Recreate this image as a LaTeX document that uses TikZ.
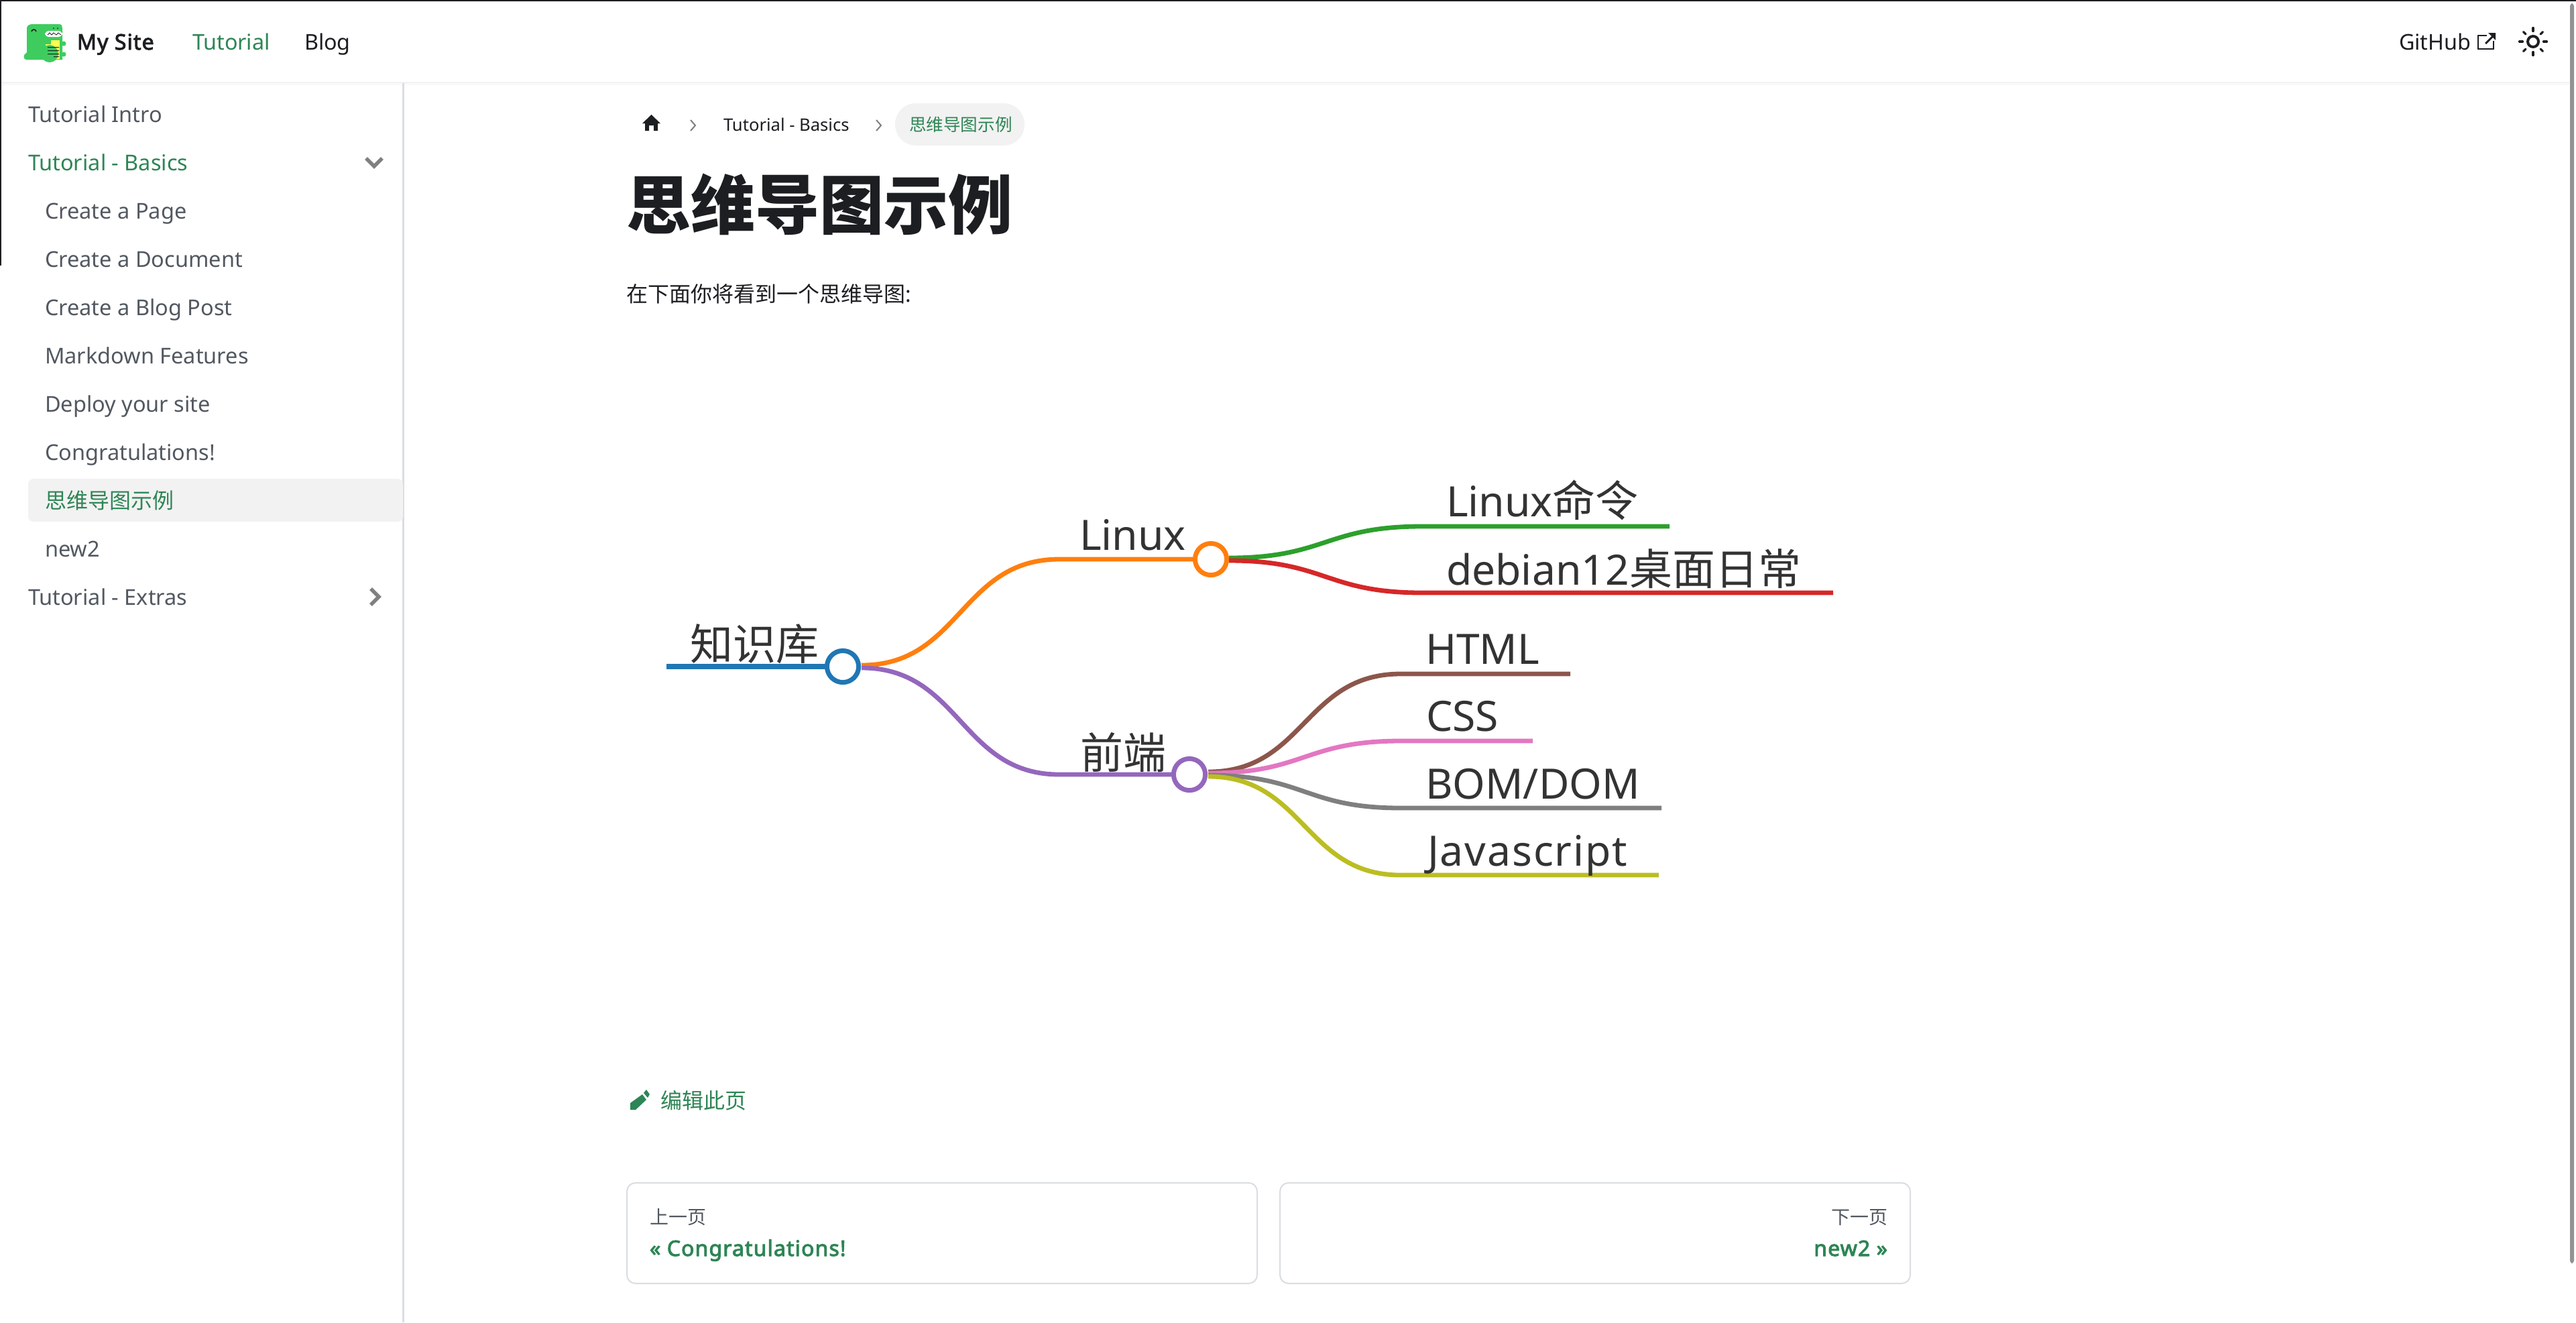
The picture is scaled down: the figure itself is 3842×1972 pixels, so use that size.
\documentclass[tikz,border=0pt]{standalone}
\usepackage{fontspec}
\setmainfont{Noto Sans}[BoldFont={Noto Sans},BoldFeatures={FakeBold=3,LetterSpace=3.5}]
\newfontfamily\cjkfont{Noto Sans CJK SC}
\usepackage{xcolor}
\usetikzlibrary{calc}
\definecolor{ink}{HTML}{1C1E21}
\definecolor{grass}{HTML}{2E8555}
\definecolor{slate}{HTML}{525860}
\definecolor{rule}{HTML}{DADDE1}
\definecolor{wash}{HTML}{F2F2F2}
\definecolor{mapink}{HTML}{333333}
\definecolor{dino}{HTML}{3ECC5F}
\definecolor{page}{HTML}{FFFF50}
\definecolor{cblue}{HTML}{1F77B4}
\definecolor{corange}{HTML}{FF7F0E}
\definecolor{cgreen}{HTML}{2CA02C}
\definecolor{cred}{HTML}{D62728}
\definecolor{cpurple}{HTML}{9467BD}
\definecolor{cbrown}{HTML}{8C564B}
\definecolor{cpink}{HTML}{E377C2}
\definecolor{cgray}{HTML}{7F7F7F}
\definecolor{colive}{HTML}{BCBD22}
\newcommand{\linkcurve}[3]{\draw[#1] (#2) .. controls ($(#2)!.5!(#3 |- #2)$) and ($(#2 |- #3)!.5!(#3)$) .. (#3)}
\newcommand{\mapcjk}[1]{{\fontsize{16}{18}\selectfont\cjkfont #1}}

\begin{document}
\begin{tikzpicture}
		[x=.25pt,y=-.25pt,
		every node/.style={inner sep=0pt,outer sep=0pt,anchor=base west},
		navtext/.style={font=\fontsize{8.08}{10}\selectfont,text=ink},
		sidetext/.style={font=\fontsize{8.13}{10}\selectfont,text=slate},
		crumb/.style={font=\fontsize{6.4}{8}\selectfont,text=ink},
		maptext/.style={font=\fontsize{15.6}{18}\selectfont,text=mapink},
		mapdot/.style={circle,draw,fill=white,line width=1.75pt,minimum size=11.8pt,anchor=center},
		maplink/.style={line width=1.7pt},
		pagerbox/.style={draw=rule,line width=.5pt,rounded corners=3.2pt},
		chev/.style={draw=gray,line width=1.4pt,fill=none}]
		\useasboundingbox (0,0) rectangle (3842,1972);
		\fill[white] (0,0) rectangle (3842,1972);
		\fill[ink] (0,0) rectangle (3842,2);
		\fill[ink] (0,0) rectangle (2,396);
		% navbar
		\fill[wash] (2,122) rectangle (3832,124);
		\fill[wash!50] (2,124) rectangle (3832,127);
		\fill[rule] (600,124) rectangle (602.5,1972);
		\fill[gray!85,rounded corners=1pt] (3833,5) rectangle (3839,1884);
		\fill[dino] (49,36) -- (88,36) .. controls (92,36) and (93,39) .. (93,42) -- (93,89) -- (40,89) .. controls (36,89) and (35,86) .. (36,82) -- (40,78) -- (40,42) .. controls (40,38) and (44,36) .. (49,36) -- cycle;
		\fill[page] (68,60) rectangle (89,88);
		\fill[dino] (60,58) rectangle (76,66);
		\fill[dino] (74,80) circle (13);
		\fill[dino] (95,65) circle (3.5);
		\fill[dino] (95,81) circle (3.5);
		\fill[white,rounded corners=1.5pt] (67,46) rectangle (93,55);
		\draw[ink,line width=.2pt] (71,52) -- (74,49) -- (77,52) -- (80,49) -- (84,52) -- (87,49) -- (91,52);
		\draw[ink,line width=.4pt] (47,47) .. controls (48,43) and (53,43) .. (54,47);
		\fill[ink] (80,42) circle (1) (86,42) circle (1);
		\fill[ink] (71,70) rectangle (88,71) (71,75) rectangle (88,76) (71,80) rectangle (88,81) (80,84) rectangle (88,85);
		\node[navtext,font=\fontsize{8}{10}\selectfont\bfseries] (brandTitle) at (115,74) {My Site};
		\node[navtext,text=grass] (navTutorial) at (287,74) {Tutorial};
		\node[navtext] (navBlog) at (454,74) {Blog};
		\node[navtext] (navGithub) at (3578,74) {GitHub};
		\draw[ink,line width=.4pt] (3709,53) -- (3696,53) -- (3696,73) -- (3719,73) -- (3719,61);
		\draw[ink,line width=.7pt] (3707,65) -- (3718,54);
		\fill[ink] (3711,49) -- (3722,49) -- (3722,60) -- cycle;
		\draw[ink,line width=1pt] (3778,62) circle (8);
		\foreach \a in {0,45,...,315}
			\draw[ink,line width=.8pt,line cap=round] (3778,62) ++(\a:15.5) -- ++(\a:5);
		% sidebar
		\fill[wash,rounded corners=2pt] (42,714) rectangle (601,778);
		\node[sidetext] (sideIntro) at (42,182) {Tutorial Intro};
		\node[sidetext,text=grass] (sideBasics) at (42,254) {Tutorial - Basics};
		\node[sidetext] (sidePage) at (67,326) {Create a Page};
		\node[sidetext] (sideDoc) at (67,398) {Create a Document};
		\node[sidetext] (sideBlog) at (67,470) {Create a Blog Post};
		\node[sidetext] (sideMd) at (67,542) {Markdown Features};
		\node[sidetext] (sideDeploy) at (67,614) {Deploy your site};
		\node[sidetext] (sideCongrats) at (67,686) {Congratulations!};
		\node[sidetext,text=grass,font=\fontsize{8}{10}\selectfont\cjkfont] (sideMap) at (67,758) {思维导图示例};
		\node[sidetext] (sideNew) at (67,830) {new2};
		\node[sidetext] (sideExtras) at (42,902) {Tutorial - Extras};
		\draw[chev] (546,236) -- (558,248) -- (570,236);
		\draw[chev] (553,878) -- (565,890) -- (553,902);
		% breadcrumbs and heading
		\fill[ink] (971.5,171) -- (985,184) -- (981,184) -- (981,195) -- (975,195) -- (975,187) -- (968,187) -- (968,195) -- (962,195) -- (962,184) -- (958,184) -- cycle;
		\draw[chev,line width=.5pt] (1030,179) -- (1037,187) -- (1030,195);
		\node[crumb] (crumbBasics) at (1079,195) {Tutorial - Basics};
		\draw[chev,line width=.5pt] (1307,179) -- (1314,187) -- (1307,195);
		\fill[wash,rounded corners=7.8pt] (1335,154) rectangle (1528,217);
		\node[crumb,text=grass,font=\fontsize{6.4}{8}\selectfont\cjkfont] (crumbMap) at (1356,195) {思维导图示例};
		\node[font=\fontsize{24}{28}\selectfont\cjkfont\bfseries,text=ink] (pageTitle) at (934,341) {思维导图示例};
		\node[font=\fontsize{8}{10}\selectfont,text=ink] (pageIntro) at (934.5,450) {{\cjkfont 在下面你将看到一个思维导图}:};
		% mindmap
		\node[mapdot,draw=cblue] (rootDot) at (1257,994) {};
		\node[mapdot,draw=corange] (linuxDot) at (1806,834) {};
		\node[mapdot,draw=cpurple] (frontDot) at (1774,1155) {};
		\coordinate (rootStart) at (994,994);
		\coordinate (rootUp) at (1285,992);
		\coordinate (rootDown) at (1285,996);
		\coordinate (linuxBend) at (1580,834);
		\coordinate (frontBend) at (1580,1155);
		\coordinate (linuxUp) at (1833,832);
		\coordinate (linuxDown) at (1833,836);
		\coordinate (cmdBend) at (2121,785);
		\coordinate (cmdEnd) at (2490,785);
		\coordinate (debBend) at (2121,884);
		\coordinate (debEnd) at (2734,884);
		\coordinate (frontA) at (1802,1151);
		\coordinate (frontB) at (1802,1153);
		\coordinate (frontC) at (1802,1156);
		\coordinate (frontD) at (1802,1158);
		\coordinate (htmlBend) at (2089,1005);
		\coordinate (htmlEnd) at (2342,1005);
		\coordinate (cssBend) at (2089,1105);
		\coordinate (cssEnd) at (2286,1105);
		\coordinate (bomBend) at (2089,1205);
		\coordinate (bomEnd) at (2478,1205);
		\coordinate (jsBend) at (2089,1305);
		\coordinate (jsEnd) at (2474,1305);
		\draw[maplink,cblue,line width=2.1pt] (rootStart) -- (rootDot);
		\linkcurve{maplink,corange}{rootUp}{linuxBend} -- (linuxDot);
		\linkcurve{maplink,cpurple}{rootDown}{frontBend} -- (frontDot);
		\linkcurve{maplink,cgreen}{linuxUp}{cmdBend} -- (cmdEnd);
		\linkcurve{maplink,cred}{linuxDown}{debBend} -- (debEnd);
		\linkcurve{maplink,cbrown}{frontA}{htmlBend} -- (htmlEnd);
		\linkcurve{maplink,cpink}{frontB}{cssBend} -- (cssEnd);
		\linkcurve{maplink,cgray}{frontC}{bomBend} -- (bomEnd);
		\linkcurve{maplink,colive}{frontD}{jsBend} -- (jsEnd);
		\node[maptext] (rootLabel) at (1029,984) {\mapcjk{知识库}};
		\node[maptext] (linuxLabel) at (1610,820) {Linux};
		\node[maptext] (frontLabel) at (1611,1146) {\mapcjk{前端}};
		\node[maptext] (cmdLabel) at (2157,770) {Linux\mapcjk{命令}};
		\node[maptext] (debLabel) at (2157,872) {debian12\mapcjk{桌面日常}};
		\node[maptext] (htmlLabel) at (2126,990) {HTML};
		\node[maptext] (cssLabel) at (2127,1090) {CSS};
		\node[maptext] (bomLabel) at (2126,1191) {BOM/DOM};
		\node[maptext,font=\fontsize{15.6}{18}\selectfont\addfontfeature{LetterSpace=3}] (jsLabel) at (2129,1291) {Javascript};
		% footer links
		\fill[grass] (940,1655) -- (940,1645) -- (958,1632) -- (964,1640) -- (948,1655) -- cycle;
		\fill[grass] (960,1630) -- (964,1625) -- (969,1632) -- (966,1637) -- cycle;
		\node[font=\fontsize{8}{10}\selectfont\cjkfont,text=grass] (editLink) at (985,1653) {编辑此页};
		\draw[pagerbox] (935,1764) rectangle (1875,1914);
		\draw[pagerbox] (1909,1764) rectangle (2849,1914);
		\node[font=\fontsize{7}{9}\selectfont\cjkfont,text=slate] (prevSub) at (969,1825) {上一页};
		\node[font=\fontsize{8}{10}\selectfont\bfseries,text=grass] (prevTitle) at (969,1873) {« Congratulations!};
		\node[font=\fontsize{7}{9}\selectfont\cjkfont,text=slate,anchor=base east] (nextSub) at (2815,1825) {下一页};
		\node[font=\fontsize{8}{10}\selectfont\bfseries,text=grass,anchor=base east] (nextTitle) at (2815,1873) {new2 »};
\end{tikzpicture}
\end{document}
